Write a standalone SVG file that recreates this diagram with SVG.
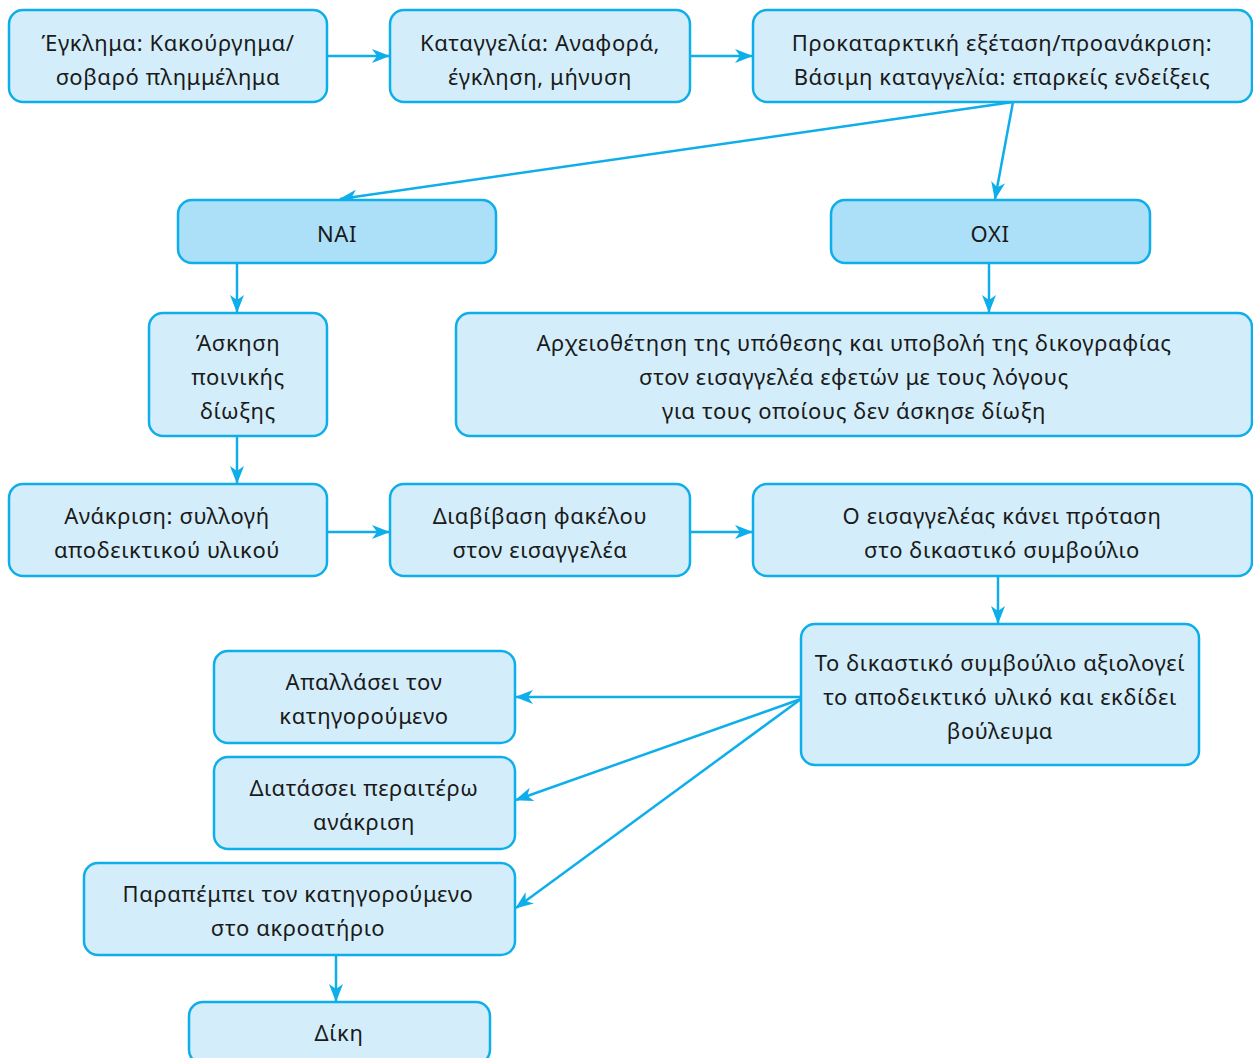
<svg xmlns="http://www.w3.org/2000/svg" width="1253" height="1058" viewBox="0 0 1253 1058">
<style>
.b{fill:#d3eefa;stroke:#0eaeea;stroke-width:2.5}
.d{fill:#acdff8;stroke:#0eaeea;stroke-width:2.5}
.t{font-family:"Noto Sans","DejaVu Sans",sans-serif;font-size:22px;letter-spacing:0.6px;fill:#1a1a1a;text-anchor:middle;dominant-baseline:central}
.c{stroke:#0eaeea;stroke-width:2.5;fill:none;marker-end:url(#a)}
</style>
<defs>
<marker id="a" viewBox="0 0 18 14" refX="17" refY="7" markerWidth="18" markerHeight="14" orient="auto" markerUnits="userSpaceOnUse">
<path d="M0,0 L18,7 L0,14 L5,7 Z" fill="#0eaeea"/>
</marker>
</defs>
<rect width="1253" height="1058" fill="#fff"/>
<g id="connectors">
<line class="c" x1="327" y1="56" x2="389" y2="56"/>
<line class="c" x1="690" y1="56" x2="752" y2="56"/>
<line class="c" x1="1013" y1="102" x2="340" y2="199"/>
<line class="c" x1="1013" y1="102" x2="995" y2="199"/>
<line class="c" x1="237" y1="263" x2="237" y2="312"/>
<line class="c" x1="989" y1="263" x2="989" y2="312"/>
<line class="c" x1="237" y1="436" x2="237" y2="483"/>
<line class="c" x1="327" y1="532" x2="389" y2="532"/>
<line class="c" x1="690" y1="532" x2="752" y2="532"/>
<line class="c" x1="998" y1="576" x2="998" y2="623"/>
<line class="c" x1="801" y1="697" x2="516" y2="697"/>
<line class="c" x1="801" y1="699" x2="516" y2="800"/>
<line class="c" x1="801" y1="699" x2="516" y2="908"/>
<line class="c" x1="336" y1="955" x2="336" y2="1001"/>
</g>
<g id="n1"><rect class="b" x="9" y="10" width="318" height="92" rx="14"/><text class="t" x="168" y="42">Έγκλημα: Κακούργημα/</text><text class="t" x="168" y="76">σοβαρό πλημμέλημα</text></g>
<g id="n2"><rect class="b" x="390" y="10" width="300" height="92" rx="14"/><text class="t" x="540" y="42">Καταγγελία: Αναφορά,</text><text class="t" x="540" y="76">έγκληση, μήνυση</text></g>
<g id="n3"><rect class="b" x="753" y="10" width="499" height="92" rx="14"/><text class="t" x="1002" y="42">Προκαταρκτική εξέταση/προανάκριση:</text><text class="t" x="1002" y="76">Βάσιμη καταγγελία: επαρκείς ενδείξεις</text></g>
<g id="nai"><rect class="d" x="178" y="200" width="318" height="63" rx="14"/><text class="t" x="337" y="233">ΝΑΙ</text></g>
<g id="oxi"><rect class="d" x="831" y="200" width="319" height="63" rx="14"/><text class="t" x="990" y="233">ΟΧΙ</text></g>
<g id="n4"><rect class="b" x="149" y="313" width="178" height="123" rx="14"/><text class="t" x="238" y="342">Άσκηση</text><text class="t" x="238" y="376">ποινικής</text><text class="t" x="238" y="410">δίωξης</text></g>
<g id="n5"><rect class="b" x="456" y="313" width="796" height="123" rx="14"/><text class="t" x="854" y="342">Αρχειοθέτηση της υπόθεσης και υποβολή της δικογραφίας</text><text class="t" x="854" y="376">στον εισαγγελέα εφετών με τους λόγους</text><text class="t" x="854" y="410">για τους οποίους δεν άσκησε δίωξη</text></g>
<g id="n6"><rect class="b" x="9" y="484" width="318" height="92" rx="14"/><text class="t" x="167" y="515">Ανάκριση: συλλογή</text><text class="t" x="167" y="549">αποδεικτικού υλικού</text></g>
<g id="n7"><rect class="b" x="390" y="484" width="300" height="92" rx="14"/><text class="t" x="540" y="515">Διαβίβαση φακέλου</text><text class="t" x="540" y="549">στον εισαγγελέα</text></g>
<g id="n8"><rect class="b" x="753" y="484" width="499" height="92" rx="14"/><text class="t" x="1002" y="515">Ο εισαγγελέας κάνει πρόταση</text><text class="t" x="1002" y="549">στο δικαστικό συμβούλιο</text></g>
<g id="n9"><rect class="b" x="801" y="624" width="398" height="141" rx="14"/><text class="t" x="1000" y="662">Το δικαστικό συμβούλιο αξιολογεί</text><text class="t" x="1000" y="696">το αποδεικτικό υλικό και εκδίδει</text><text class="t" x="1000" y="730">βούλευμα</text></g>
<g id="n10"><rect class="b" x="214" y="651" width="301" height="92" rx="14"/><text class="t" x="364" y="681">Απαλλάσει τον</text><text class="t" x="364" y="715">κατηγορούμενο</text></g>
<g id="n11"><rect class="b" x="214" y="757" width="301" height="92" rx="14"/><text class="t" x="364" y="787">Διατάσσει περαιτέρω</text><text class="t" x="364" y="821">ανάκριση</text></g>
<g id="n12"><rect class="b" x="84" y="863" width="431" height="92" rx="14"/><text class="t" x="298" y="893">Παραπέμπει τον κατηγορούμενο</text><text class="t" x="298" y="927">στο ακροατήριο</text></g>
<g id="n13"><rect class="b" x="189" y="1002" width="301" height="62" rx="14"/><text class="t" x="339" y="1032">Δίκη</text></g>
</svg>
